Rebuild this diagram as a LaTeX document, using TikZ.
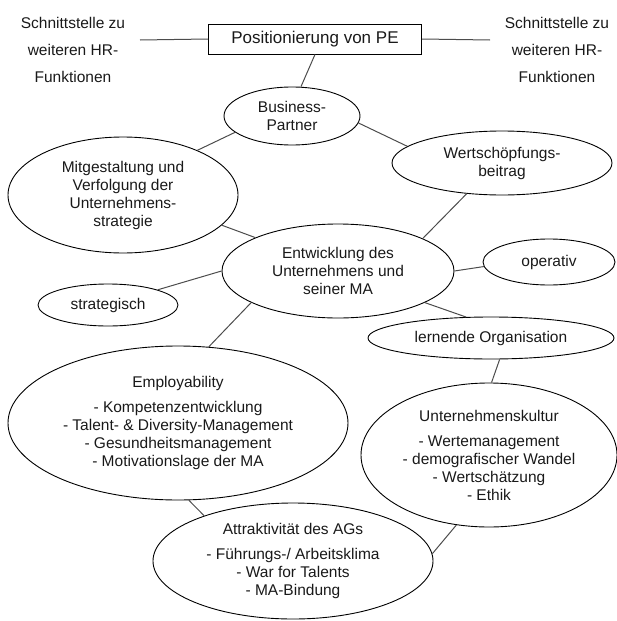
\documentclass[tikz,border=0pt]{standalone}
\usepackage{fontspec}
\setmainfont{Liberation Sans}
\usetikzlibrary{shapes.geometric}
\begin{document}
\begin{tikzpicture}[x=1pt,y=-1pt,
  ell/.style={draw=black, ellipse, inner sep=0pt, line width=0.9pt, align=center,
              font=\fontsize{15.5}{18}\selectfont, text=black!90},
  side/.style={align=center, font=\fontsize{15.5}{27}\selectfont, text=black!90},
  boxnode/.style={draw=black, line width=0.9pt, minimum width=213pt, minimum height=30pt,
              inner sep=0pt, font=\fontsize{17}{19}\selectfont, text=black!90},
  conn/.style={draw=black!70, line width=1pt}]
\useasboundingbox (0,0) rectangle (617,621);

% top row
\node[boxnode] (pe) at (315,39) {Positionierung von PE};
\node[side] (sl) at (73,50) {Schnittstelle zu\\weiteren HR-\\Funktionen};
\node[side] (sr) at (557,50) {Schnittstelle zu\\weiteren HR-\\Funktionen};
\coordinate (ls) at (140,40);
\coordinate (rs) at (490,40);

% ellipses
\node[ell, minimum width=136pt, minimum height=58pt] (bp) at (292,116) {Business-\\Partner};
\node[ell, minimum width=230pt, minimum height=116pt] (mit) at (123,195) {Mitgestaltung und\\Verfolgung der\\Unternehmens-\\strategie};
\node[ell, minimum width=220pt, minimum height=64pt] (ws) at (502,163) {Wertsch\"opfungs-\\beitrag};
\node[ell, minimum width=232pt, minimum height=94pt] (ent) at (338,271) {Entwicklung des\\Unternehmens und\\seiner MA};
\node[ell, minimum width=132pt, minimum height=46pt] (op) at (549,262) {operativ};
\node[ell, minimum width=140pt, minimum height=42pt] (st) at (108,305) {strategisch};
\node[ell, minimum width=246pt, minimum height=42pt] (lo) at (491,338) {lernende Organisation};
\node[ell, minimum width=340pt, minimum height=154pt] (emp) at (178,423) {Employability\\[7pt]- Kompetenzentwicklung\\- Talent- \& Diversity-Management\\- Gesundheitsmanagement\\- Motivationslage der MA};
\node[ell, minimum width=256pt, minimum height=144pt] (uk) at (489,455) {Unternehmenskultur\\[7pt]- Wertemanagement\\- demografischer Wandel\\- Wertsch\"atzung\\- Ethik};
\node[ell, minimum width=280pt, minimum height=116pt] (ag) at (293,561) {Attraktivit\"at des AGs\\[7pt]- F\"uhrungs-/ Arbeitsklima\\- War for Talents\\- MA-Bindung};

% connectors
\draw[conn] (ls) -- (pe.west);
\draw[conn] (pe.east) -- (rs);
\draw[conn] (pe.south) -- (bp.73);
\draw[conn] (bp.196) -- (mit.31);
\draw[conn] (bp.354) -- (ws.170);
\draw[conn] (mit.343) -- (ent.158);
\draw[conn] (ws.221) -- (ent.21);
\draw[conn] (ent.0) -- (op.184);
\draw[conn] (ent.180) -- (st.17);
\draw[conn] (ent.340) -- (lo.140);
\draw[conn] (ent.200) -- (emp.68);
\draw[conn] (lo.292) -- (uk.88);
\draw[conn] (emp.278) -- (ag.153);
\draw[conn] (uk.245) -- (ag.3);
\end{tikzpicture}
\end{document}
